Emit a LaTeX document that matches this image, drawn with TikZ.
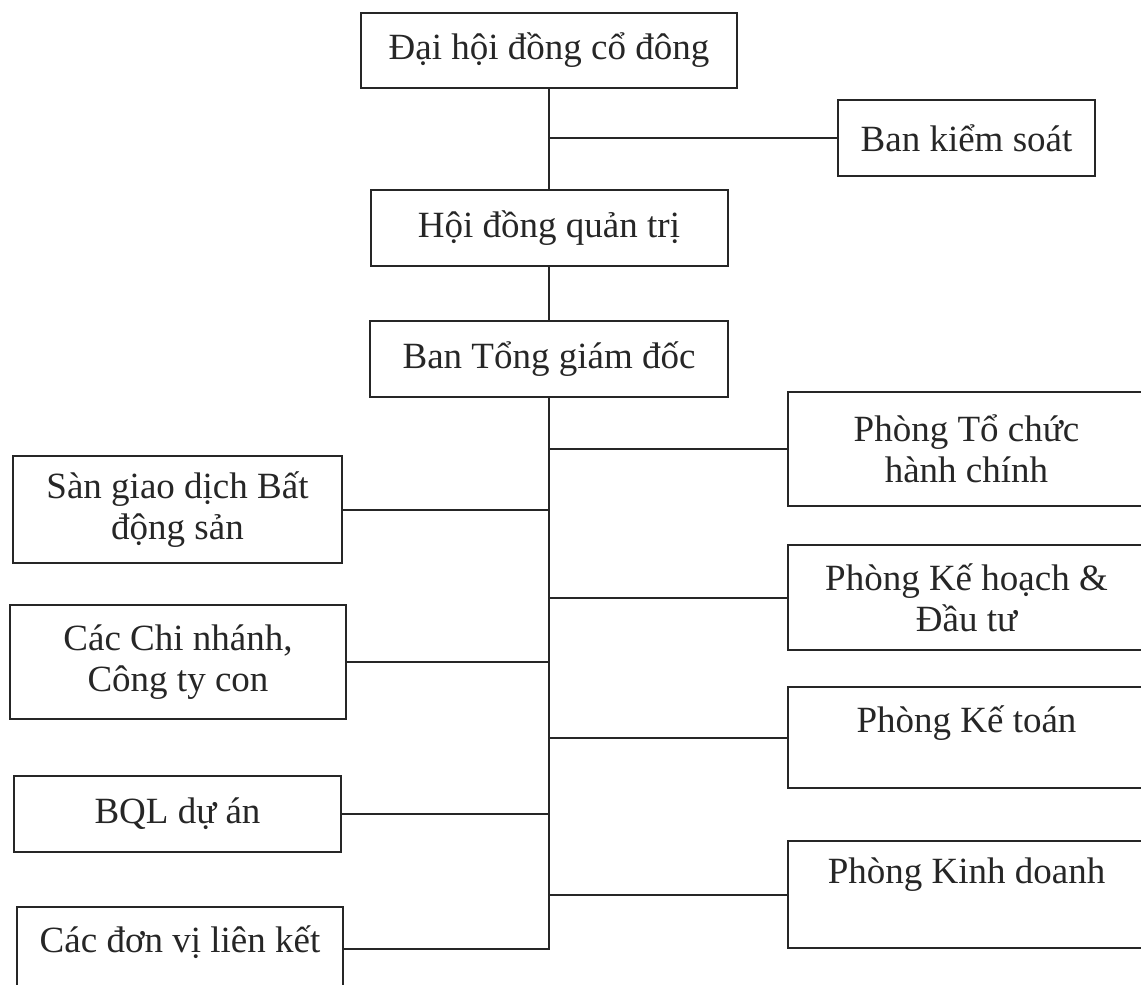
\documentclass[tikz,border=0pt]{standalone}
\usepackage{fontspec}
\setmainfont{Liberation Serif}
\begin{document}
\begin{tikzpicture}[x=0.5pt,y=-0.5pt,
  box/.style={draw=black!85,line width=1pt,text=black!85,align=center,
    font=\fontsize{18.5}{20.5}\selectfont,minimum height=38pt},
  topbox/.style={box,inner ysep=0pt},
  link/.style={draw=black!85,line width=1pt}]
\useasboundingbox (0,0) rectangle (1141,985);
\clip (0,0) rectangle (1141,985);
\node[box,minimum width=188pt,minimum height=37.5pt] (dhdcd) at (549,50.5) {Đại hội đồng cổ đông};
\node[box,minimum width=128.5pt] (bks) at (966.5,138) {Ban kiểm soát};
\node[box,minimum width=178.5pt] (hdqt) at (549,228) {Hội đồng quản trị};
\node[box,minimum width=179pt] (btgd) at (549,359) {Ban Tổng giám đốc};
\node[box,minimum width=178.5pt,minimum height=57pt] (ptchc) at (966.5,449) {Phòng Tổ chức\\hành chính};
\node[box,minimum width=178.5pt,minimum height=52.5pt] (pkhdt) at (966.5,597.5) {Phòng Kế hoạch \&\\Đầu tư};
\node[topbox,minimum width=178.5pt,text height=22.5pt,text depth=28pt] (pkt) at (966.5,737.5) {Phòng Kế toán};
\node[topbox,minimum width=178.5pt,text height=21pt,text depth=32.5pt] (pkd) at (966.5,894.5) {Phòng Kinh doanh};
\node[box,minimum width=164.5pt,minimum height=53.5pt] (sgd) at (177.5,509.5) {Sàn giao dịch Bất\\động sản};
\node[box,minimum width=168pt,minimum height=57pt] (ccn) at (178,662) {Các Chi nhánh,\\Công ty con};
\node[box,minimum width=163.5pt] (bql) at (177.5,814) {BQL dự án};
\node[topbox,minimum width=163pt,text height=22.5pt,text depth=19.5pt] (cdvlk) at (180,949) {Các đơn vị liên kết};
\draw[link] (dhdcd) -- (hdqt);
\draw[link] (dhdcd.south |- bks.west) -- (bks);
\draw[link] (hdqt) -- (btgd);
\draw[link] (btgd) -- (btgd.south |- cdvlk.east) -- (cdvlk);
\draw[link] (btgd.south |- ptchc.west) -- (ptchc);
\draw[link] (btgd.south |- pkhdt.west) -- (pkhdt);
\draw[link] (btgd.south |- pkt.west) -- (pkt);
\draw[link] (btgd.south |- pkd.west) -- (pkd);
\draw[link] (btgd.south |- sgd.east) -- (sgd);
\draw[link] (btgd.south |- ccn.east) -- (ccn);
\draw[link] (btgd.south |- bql.east) -- (bql);
\end{tikzpicture}
\end{document}
